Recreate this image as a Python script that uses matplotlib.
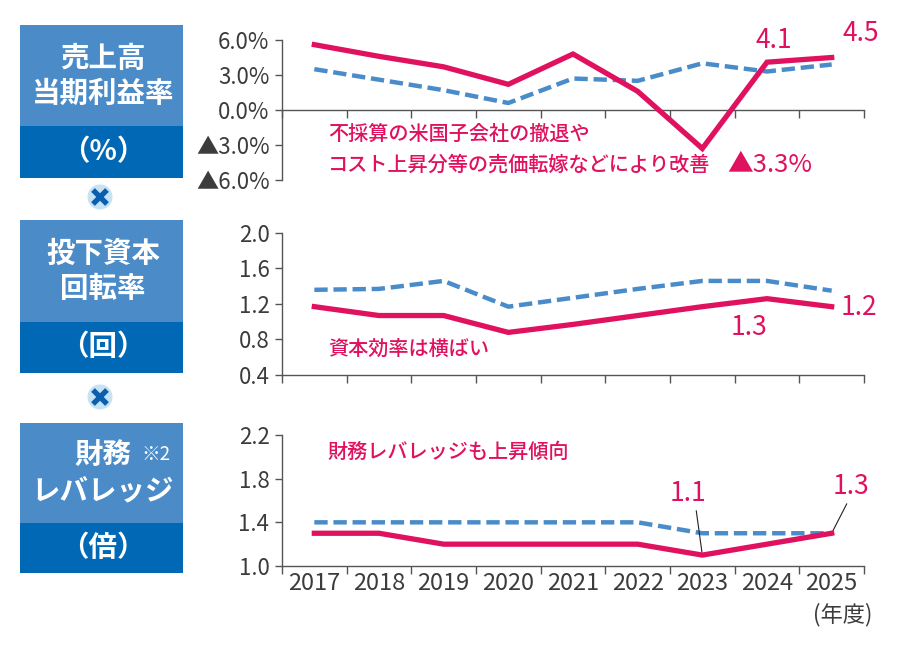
import numpy as np
import matplotlib
matplotlib.use('Agg')
import matplotlib.pyplot as plt
from matplotlib.patches import Rectangle, Circle

plt.rcParams['font.family'] = ['Noto Sans CJK JP', 'DejaVu Sans']

# Data
years = ['2017', '2018', '2019', '2020', '2021', '2022', '2023', '2024', '2025']
margin_actual = [5.6, 4.6, 3.7, 2.2, 4.8, 1.6, -3.3, 4.1, 4.5]
margin_bench = [3.5, 2.6, 1.7, 0.6, 2.7, 2.5, 4.0, 3.3, 3.9]
turnover_actual = [1.17, 1.07, 1.07, 0.88, 0.97, 1.07, 1.17, 1.26, 1.17]
turnover_bench = [1.36, 1.37, 1.46, 1.17, 1.27, 1.37, 1.46, 1.46, 1.35]
leverage_actual = [1.3, 1.3, 1.2, 1.2, 1.2, 1.2, 1.1, 1.2, 1.3]
leverage_bench = [1.4, 1.4, 1.4, 1.4, 1.4, 1.4, 1.3, 1.3, 1.3]

margin_ticks = [6, 3, 0, -3, -6]
margin_ticklabels = ['6.0%', '3.0%', '0.0%', '▲3.0%', '▲6.0%']
turnover_ticks = [0.4, 0.8, 1.2, 1.6, 2.0]
leverage_ticks = [1.0, 1.4, 1.8, 2.2]

RED = '#e0115f'
BLUE = '#4a8cca'
LIGHT = '#4a8bc8'
DARK = '#0068b5'
GRAY = '#3c3c3c'

W, H = 900, 650
fig = plt.figure(figsize=(9, 6.5), dpi=100)


def rect(x0, y0, x1, y1):
    return [x0 / W, 1 - y1 / H, (x1 - x0) / W, (y1 - y0) / H]


x = np.arange(len(years))


def setup(ax, ylim, ticks, labels, xaxis_at=None):
    ax.set_xlim(-0.5, len(years) - 0.5)
    ax.set_ylim(*ylim)
    ax.set_yticks(ticks)
    ax.set_yticklabels(labels)
    ax.set_xticks(np.arange(len(years) + 1) - 0.5)
    ax.set_xticklabels([])
    ax.spines['top'].set_visible(False)
    ax.spines['right'].set_visible(False)
    for s in ['left', 'bottom']:
        ax.spines[s].set_color('#555555')
        ax.spines[s].set_linewidth(1.0)
    if xaxis_at is not None:
        ax.spines['bottom'].set_position(('data', xaxis_at))
    ax.tick_params(axis='y', length=5, width=1, color='#555555', pad=4,
                   labelsize=16, labelcolor=GRAY)
    ax.tick_params(axis='x', length=6, width=1, color='#555555')
    ax.patch.set_alpha(0)


def lines(ax, actual, bench):
    ax.plot(x, bench, color=BLUE, lw=3.2, dashes=(3.0, 1.3), zorder=3)
    ax.plot(x, actual, color=RED, lw=3.8, zorder=4, solid_joinstyle='miter')


# Top panel: profit margin
ax1 = fig.add_axes(rect(282, 40, 864, 180))
setup(ax1, (-6, 6), margin_ticks, margin_ticklabels, xaxis_at=0)
lines(ax1, margin_actual, margin_bench)
ax1.annotate('4.1', xy=(7, margin_actual[7]), xytext=(7, 22), textcoords='offset pixels',
             ha='center', va='center', color=RED, fontsize=19, annotation_clip=False)
ax1.annotate('4.5', xy=(8, margin_actual[8]), xytext=(29, 24), textcoords='offset pixels',
             ha='center', va='center', color=RED, fontsize=19, annotation_clip=False)
ax1.annotate('▲3.3%', xy=(6, margin_actual[6]), xytext=(67, -16), textcoords='offset pixels',
             ha='center', va='center', color=RED, fontsize=18.5, annotation_clip=False)
ax1.text(0.21, -2.1, '不採算の米国子会社の撤退や', color=RED, fontsize=14.5,
         ha='left', va='center', fontweight='medium')
ax1.text(0.21, -4.7, 'コスト上昇分等の売価転嫁などにより改善', color=RED, fontsize=14.5,
         ha='left', va='center', fontweight='medium')

# Middle panel: invested capital turnover
ax2 = fig.add_axes(rect(282, 233, 864, 375))
setup(ax2, (0.4, 2.0), turnover_ticks, [f'{t:.1f}' for t in turnover_ticks])
lines(ax2, turnover_actual, turnover_bench)
ax2.annotate('1.3', xy=(7, turnover_actual[7]), xytext=(-18, -29), textcoords='offset pixels',
             ha='center', va='center', color=RED, fontsize=19, annotation_clip=False)
ax2.annotate('1.2', xy=(8, turnover_actual[8]), xytext=(27, -1), textcoords='offset pixels',
             ha='center', va='center', color=RED, fontsize=19, annotation_clip=False)
ax2.text(0.21, 0.68, '資本効率は横ばい', color=RED, fontsize=14.5, ha='left', va='center',
         fontweight='medium')

# Bottom panel: financial leverage
ax3 = fig.add_axes(rect(282, 435, 864, 566))
setup(ax3, (1.0, 2.2), leverage_ticks, [f'{t:.1f}' for t in leverage_ticks])
lines(ax3, leverage_actual, leverage_bench)
for i, (px, py) in zip([6, 8], [(-14, 62), (19, 47)]):
    ax3.annotate(f'{leverage_actual[i]:.1f}', xy=(i, leverage_actual[i]), xytext=(px, py),
                 textcoords='offset pixels', ha='center', va='center', color=RED,
                 fontsize=19, annotation_clip=False,
                 arrowprops=dict(arrowstyle='-', color='#222222', lw=0.8,
                                 shrinkA=1, shrinkB=2,
                                 relpos=(0.7 if i == 6 else 0.45, 0)))
ax3.text(0.21, 2.04, '財務レバレッジも上昇傾向', color=RED, fontsize=14.5, ha='left', va='center',
         fontweight='medium')
for i, y in enumerate(years):
    ax3.annotate(y, xy=(i, 1.0), xytext=(0, -17), textcoords='offset pixels',
                 ha='center', va='center', fontsize=17, color=GRAY, annotation_clip=False)
ax3.annotate('(年度)', xy=(8.5, 1.0), xytext=(8, -49), textcoords='offset pixels',
             ha='right', va='center', fontsize=16, color=GRAY, annotation_clip=False)

# Left side boxes
axl = fig.add_axes([0, 0, 1, 1], zorder=-1)
axl.set_xlim(0, W)
axl.set_ylim(H, 0)
axl.axis('off')

boxes = [
    (25, 126, 178, ['売上高', '当期利益率'], '（%）'),
    (220, 322, 373, ['投下資本', '回転率'], '（回）'),
    (423, 523, 573, ['財務', 'レバレッジ'], '（倍）'),
]
for top, split, bottom, title, unit in boxes:
    axl.add_patch(Rectangle((20, top), 163, split - top, color=LIGHT, lw=0))
    axl.add_patch(Rectangle((20, split), 163, bottom - split, color=DARK, lw=0))
    mid = (top + split) / 2
    axl.text(103, mid - 17, title[0], ha='center', va='center', color='white',
             fontsize=20.5, fontweight='bold')
    axl.text(103, mid + 18, title[1], ha='center', va='center', color='white',
             fontsize=20.5, fontweight='bold')
    axl.text(103, (split + bottom) / 2, unit, ha='center', va='center', color='white',
             fontsize=20.5, fontweight='bold')

axl.text(156, 455, '※2', ha='center', va='center', color='white', fontsize=13.5)

for cy in [197, 397]:
    axl.add_patch(Circle((100, cy), 12.5, color='#c6e3f6', lw=0))
    axl.plot([93, 107], [cy - 7, cy + 7], color='#0a5fae', lw=3.8, solid_capstyle='butt')
    axl.plot([93, 107], [cy + 7, cy - 7], color='#0a5fae', lw=3.8, solid_capstyle='butt')

fig.savefig('out.png', dpi=100)
